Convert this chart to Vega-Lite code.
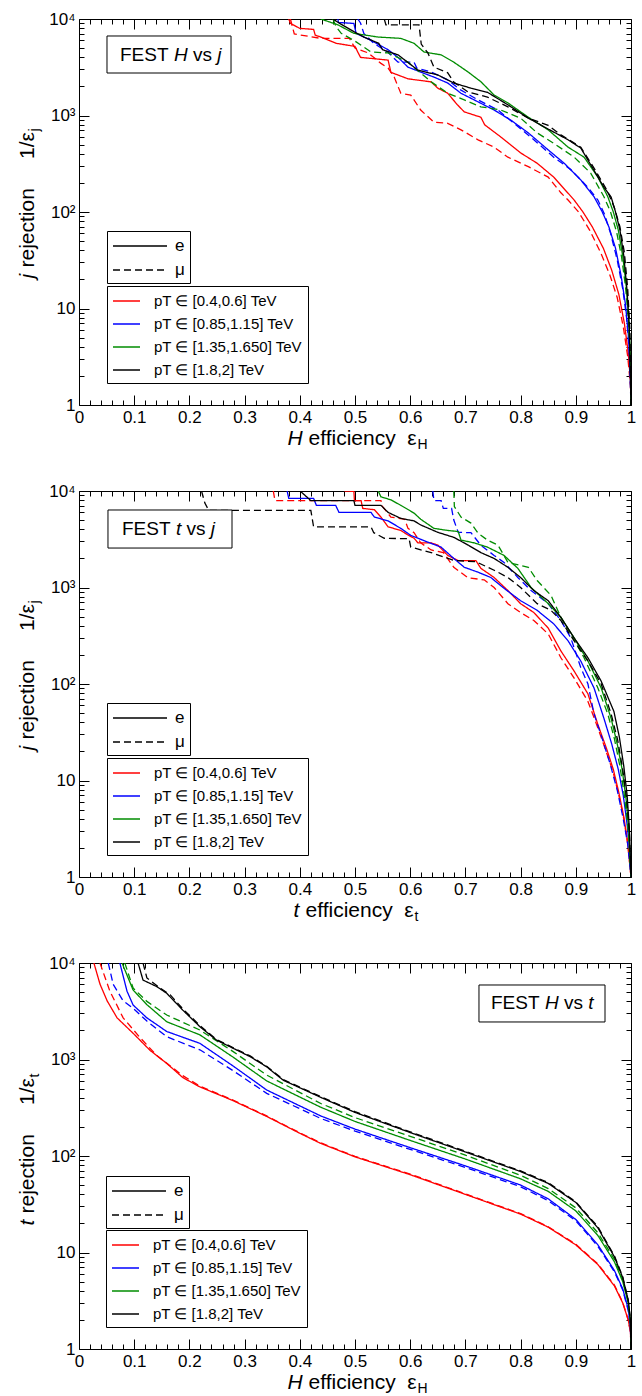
{
"$schema": "https://vega.github.io/schema/vega-lite/v6.json",
"background": "white",
"padding": {"left": 15, "top": 9, "right": 5, "bottom": 0},
"spacing": 29,
"config": {
  "font": "Liberation Sans",
  "view": {"stroke": "black", "strokeWidth": 1},
  "axis": {"grid": false, "domain": false, "tickColor": "black", "tickWidth": 1, "labelColor": "black", "titleColor": "black", "labelFontSize": 17, "titleFontSize": 21, "titleFontWeight": "normal", "labelFlush": false, "labelOverlap": false, "titleBaseline": "alphabetic", "titleAlign": "left"},
  "legend": {"strokeColor": "black", "fillColor": "white", "padding": 5, "cornerRadius": 0, "labelColor": "black", "symbolStrokeWidth": 1.5, "labelBaseline": "middle"}
},
"datasets": {
"p1": [
{"e":0.380,"r":10000,"p":"[0.4,0.6]","l":"e"},{"e":0.383,"r":9000,"p":"[0.4,0.6]","l":"e"},{"e":0.400,"r":8000,"p":"[0.4,0.6]","l":"e"},{"e":0.425,"r":7800,"p":"[0.4,0.6]","l":"e"},{"e":0.428,"r":6800,"p":"[0.4,0.6]","l":"e"},{"e":0.438,"r":6500,"p":"[0.4,0.6]","l":"e"},{"e":0.466,"r":5600,"p":"[0.4,0.6]","l":"e"},{"e":0.500,"r":5200,"p":"[0.4,0.6]","l":"e"},{"e":0.505,"r":4550,"p":"[0.4,0.6]","l":"e"},{"e":0.510,"r":4000,"p":"[0.4,0.6]","l":"e"},{"e":0.560,"r":3750,"p":"[0.4,0.6]","l":"e"},{"e":0.565,"r":2800,"p":"[0.4,0.6]","l":"e"},{"e":0.596,"r":2400,"p":"[0.4,0.6]","l":"e"},{"e":0.638,"r":2230,"p":"[0.4,0.6]","l":"e"},{"e":0.650,"r":1920,"p":"[0.4,0.6]","l":"e"},{"e":0.668,"r":1700,"p":"[0.4,0.6]","l":"e"},{"e":0.685,"r":1300,"p":"[0.4,0.6]","l":"e"},{"e":0.698,"r":1090,"p":"[0.4,0.6]","l":"e"},{"e":0.728,"r":960,"p":"[0.4,0.6]","l":"e"},{"e":0.735,"r":800,"p":"[0.4,0.6]","l":"e"},{"e":0.764,"r":600,"p":"[0.4,0.6]","l":"e"},{"e":0.800,"r":410,"p":"[0.4,0.6]","l":"e"},{"e":0.830,"r":320,"p":"[0.4,0.6]","l":"e"},{"e":0.860,"r":230,"p":"[0.4,0.6]","l":"e"},{"e":0.897,"r":133,"p":"[0.4,0.6]","l":"e"},{"e":0.913,"r":100,"p":"[0.4,0.6]","l":"e"},{"e":0.930,"r":70,"p":"[0.4,0.6]","l":"e"},{"e":0.950,"r":42,"p":"[0.4,0.6]","l":"e"},{"e":0.965,"r":25,"p":"[0.4,0.6]","l":"e"},{"e":0.978,"r":14,"p":"[0.4,0.6]","l":"e"},{"e":0.988,"r":7,"p":"[0.4,0.6]","l":"e"},{"e":0.995,"r":3.5,"p":"[0.4,0.6]","l":"e"},{"e":0.999,"r":1.8,"p":"[0.4,0.6]","l":"e"},{"e":1.0,"r":1,"p":"[0.4,0.6]","l":"e"},
{"e":0.383,"r":10000,"p":"[0.4,0.6]","l":"μ"},{"e":0.390,"r":7000,"p":"[0.4,0.6]","l":"μ"},{"e":0.438,"r":6300,"p":"[0.4,0.6]","l":"μ"},{"e":0.490,"r":6300,"p":"[0.4,0.6]","l":"μ"},{"e":0.500,"r":5000,"p":"[0.4,0.6]","l":"μ"},{"e":0.524,"r":4450,"p":"[0.4,0.6]","l":"μ"},{"e":0.547,"r":3470,"p":"[0.4,0.6]","l":"μ"},{"e":0.560,"r":3100,"p":"[0.4,0.6]","l":"μ"},{"e":0.571,"r":2500,"p":"[0.4,0.6]","l":"μ"},{"e":0.583,"r":1700,"p":"[0.4,0.6]","l":"μ"},{"e":0.601,"r":1630,"p":"[0.4,0.6]","l":"μ"},{"e":0.619,"r":1140,"p":"[0.4,0.6]","l":"μ"},{"e":0.643,"r":850,"p":"[0.4,0.6]","l":"μ"},{"e":0.668,"r":830,"p":"[0.4,0.6]","l":"μ"},{"e":0.692,"r":710,"p":"[0.4,0.6]","l":"μ"},{"e":0.723,"r":560,"p":"[0.4,0.6]","l":"μ"},{"e":0.752,"r":470,"p":"[0.4,0.6]","l":"μ"},{"e":0.777,"r":370,"p":"[0.4,0.6]","l":"μ"},{"e":0.814,"r":295,"p":"[0.4,0.6]","l":"μ"},{"e":0.850,"r":230,"p":"[0.4,0.6]","l":"μ"},{"e":0.873,"r":158,"p":"[0.4,0.6]","l":"μ"},{"e":0.886,"r":133,"p":"[0.4,0.6]","l":"μ"},{"e":0.905,"r":100,"p":"[0.4,0.6]","l":"μ"},{"e":0.925,"r":65,"p":"[0.4,0.6]","l":"μ"},{"e":0.945,"r":38,"p":"[0.4,0.6]","l":"μ"},{"e":0.962,"r":22,"p":"[0.4,0.6]","l":"μ"},{"e":0.975,"r":13,"p":"[0.4,0.6]","l":"μ"},{"e":0.986,"r":6.5,"p":"[0.4,0.6]","l":"μ"},{"e":0.994,"r":3.2,"p":"[0.4,0.6]","l":"μ"},{"e":0.999,"r":1.6,"p":"[0.4,0.6]","l":"μ"},{"e":1.0,"r":1,"p":"[0.4,0.6]","l":"μ"},
{"e":0.469,"r":10000,"p":"[0.85,1.15]","l":"e"},{"e":0.470,"r":9200,"p":"[0.85,1.15]","l":"e"},{"e":0.498,"r":9000,"p":"[0.85,1.15]","l":"e"},{"e":0.502,"r":7100,"p":"[0.85,1.15]","l":"e"},{"e":0.529,"r":6000,"p":"[0.85,1.15]","l":"e"},{"e":0.560,"r":4800,"p":"[0.85,1.15]","l":"e"},{"e":0.578,"r":4000,"p":"[0.85,1.15]","l":"e"},{"e":0.596,"r":3170,"p":"[0.85,1.15]","l":"e"},{"e":0.619,"r":2820,"p":"[0.85,1.15]","l":"e"},{"e":0.643,"r":2500,"p":"[0.85,1.15]","l":"e"},{"e":0.668,"r":2170,"p":"[0.85,1.15]","l":"e"},{"e":0.692,"r":1700,"p":"[0.85,1.15]","l":"e"},{"e":0.716,"r":1450,"p":"[0.85,1.15]","l":"e"},{"e":0.752,"r":1140,"p":"[0.85,1.15]","l":"e"},{"e":0.783,"r":890,"p":"[0.85,1.15]","l":"e"},{"e":0.814,"r":660,"p":"[0.85,1.15]","l":"e"},{"e":0.850,"r":440,"p":"[0.85,1.15]","l":"e"},{"e":0.879,"r":320,"p":"[0.85,1.15]","l":"e"},{"e":0.909,"r":215,"p":"[0.85,1.15]","l":"e"},{"e":0.933,"r":144,"p":"[0.85,1.15]","l":"e"},{"e":0.948,"r":100,"p":"[0.85,1.15]","l":"e"},{"e":0.960,"r":70,"p":"[0.85,1.15]","l":"e"},{"e":0.972,"r":42,"p":"[0.85,1.15]","l":"e"},{"e":0.982,"r":22,"p":"[0.85,1.15]","l":"e"},{"e":0.990,"r":11,"p":"[0.85,1.15]","l":"e"},{"e":0.995,"r":5.5,"p":"[0.85,1.15]","l":"e"},{"e":0.999,"r":2,"p":"[0.85,1.15]","l":"e"},{"e":1.0,"r":1,"p":"[0.85,1.15]","l":"e"},
{"e":0.505,"r":10000,"p":"[0.85,1.15]","l":"μ"},{"e":0.510,"r":9100,"p":"[0.85,1.15]","l":"μ"},{"e":0.516,"r":7100,"p":"[0.85,1.15]","l":"μ"},{"e":0.534,"r":5600,"p":"[0.85,1.15]","l":"μ"},{"e":0.560,"r":4500,"p":"[0.85,1.15]","l":"μ"},{"e":0.578,"r":3570,"p":"[0.85,1.15]","l":"μ"},{"e":0.607,"r":3570,"p":"[0.85,1.15]","l":"μ"},{"e":0.612,"r":3100,"p":"[0.85,1.15]","l":"μ"},{"e":0.638,"r":2820,"p":"[0.85,1.15]","l":"μ"},{"e":0.668,"r":2340,"p":"[0.85,1.15]","l":"μ"},{"e":0.692,"r":1830,"p":"[0.85,1.15]","l":"μ"},{"e":0.723,"r":1450,"p":"[0.85,1.15]","l":"μ"},{"e":0.759,"r":1140,"p":"[0.85,1.15]","l":"μ"},{"e":0.788,"r":830,"p":"[0.85,1.15]","l":"μ"},{"e":0.824,"r":560,"p":"[0.85,1.15]","l":"μ"},{"e":0.860,"r":370,"p":"[0.85,1.15]","l":"μ"},{"e":0.891,"r":275,"p":"[0.85,1.15]","l":"μ"},{"e":0.922,"r":180,"p":"[0.85,1.15]","l":"μ"},{"e":0.940,"r":133,"p":"[0.85,1.15]","l":"μ"},{"e":0.952,"r":95,"p":"[0.85,1.15]","l":"μ"},{"e":0.963,"r":60,"p":"[0.85,1.15]","l":"μ"},{"e":0.975,"r":32,"p":"[0.85,1.15]","l":"μ"},{"e":0.985,"r":16,"p":"[0.85,1.15]","l":"μ"},{"e":0.992,"r":8,"p":"[0.85,1.15]","l":"μ"},{"e":0.997,"r":3.5,"p":"[0.85,1.15]","l":"μ"},{"e":1.0,"r":1,"p":"[0.85,1.15]","l":"μ"},
{"e":0.438,"r":10000,"p":"[1.35,1.650]","l":"e"},{"e":0.469,"r":8700,"p":"[1.35,1.650]","l":"e"},{"e":0.498,"r":7100,"p":"[1.35,1.650]","l":"e"},{"e":0.542,"r":6500,"p":"[1.35,1.650]","l":"e"},{"e":0.583,"r":6300,"p":"[1.35,1.650]","l":"e"},{"e":0.607,"r":5600,"p":"[1.35,1.650]","l":"e"},{"e":0.625,"r":4550,"p":"[1.35,1.650]","l":"e"},{"e":0.656,"r":4250,"p":"[1.35,1.650]","l":"e"},{"e":0.679,"r":3570,"p":"[1.35,1.650]","l":"e"},{"e":0.705,"r":2820,"p":"[1.35,1.650]","l":"e"},{"e":0.728,"r":2240,"p":"[1.35,1.650]","l":"e"},{"e":0.752,"r":1630,"p":"[1.35,1.650]","l":"e"},{"e":0.777,"r":1350,"p":"[1.35,1.650]","l":"e"},{"e":0.814,"r":960,"p":"[1.35,1.650]","l":"e"},{"e":0.850,"r":710,"p":"[1.35,1.650]","l":"e"},{"e":0.886,"r":470,"p":"[1.35,1.650]","l":"e"},{"e":0.915,"r":370,"p":"[1.35,1.650]","l":"e"},{"e":0.940,"r":230,"p":"[1.35,1.650]","l":"e"},{"e":0.958,"r":144,"p":"[1.35,1.650]","l":"e"},{"e":0.968,"r":100,"p":"[1.35,1.650]","l":"e"},{"e":0.977,"r":65,"p":"[1.35,1.650]","l":"e"},{"e":0.985,"r":35,"p":"[1.35,1.650]","l":"e"},{"e":0.991,"r":18,"p":"[1.35,1.650]","l":"e"},{"e":0.996,"r":8,"p":"[1.35,1.650]","l":"e"},{"e":0.999,"r":3,"p":"[1.35,1.650]","l":"e"},{"e":1.0,"r":1,"p":"[1.35,1.650]","l":"e"},
{"e":0.460,"r":10000,"p":"[1.35,1.650]","l":"μ"},{"e":0.466,"r":8300,"p":"[1.35,1.650]","l":"μ"},{"e":0.475,"r":7100,"p":"[1.35,1.650]","l":"μ"},{"e":0.498,"r":6000,"p":"[1.35,1.650]","l":"μ"},{"e":0.529,"r":4550,"p":"[1.35,1.650]","l":"μ"},{"e":0.560,"r":4450,"p":"[1.35,1.650]","l":"μ"},{"e":0.596,"r":3570,"p":"[1.35,1.650]","l":"μ"},{"e":0.638,"r":2230,"p":"[1.35,1.650]","l":"μ"},{"e":0.668,"r":1700,"p":"[1.35,1.650]","l":"μ"},{"e":0.698,"r":1450,"p":"[1.35,1.650]","l":"μ"},{"e":0.728,"r":1230,"p":"[1.35,1.650]","l":"μ"},{"e":0.764,"r":1140,"p":"[1.35,1.650]","l":"μ"},{"e":0.800,"r":940,"p":"[1.35,1.650]","l":"μ"},{"e":0.830,"r":660,"p":"[1.35,1.650]","l":"μ"},{"e":0.860,"r":515,"p":"[1.35,1.650]","l":"μ"},{"e":0.897,"r":370,"p":"[1.35,1.650]","l":"μ"},{"e":0.927,"r":253,"p":"[1.35,1.650]","l":"μ"},{"e":0.951,"r":144,"p":"[1.35,1.650]","l":"μ"},{"e":0.963,"r":100,"p":"[1.35,1.650]","l":"μ"},{"e":0.974,"r":62,"p":"[1.35,1.650]","l":"μ"},{"e":0.983,"r":34,"p":"[1.35,1.650]","l":"μ"},{"e":0.990,"r":17,"p":"[1.35,1.650]","l":"μ"},{"e":0.995,"r":8,"p":"[1.35,1.650]","l":"μ"},{"e":0.999,"r":3,"p":"[1.35,1.650]","l":"μ"},{"e":1.0,"r":1,"p":"[1.35,1.650]","l":"μ"},
{"e":0.460,"r":10000,"p":"[1.8,2]","l":"e"},{"e":0.471,"r":9100,"p":"[1.8,2]","l":"e"},{"e":0.498,"r":7400,"p":"[1.8,2]","l":"e"},{"e":0.516,"r":6500,"p":"[1.8,2]","l":"e"},{"e":0.543,"r":5600,"p":"[1.8,2]","l":"e"},{"e":0.550,"r":4800,"p":"[1.8,2]","l":"e"},{"e":0.578,"r":4250,"p":"[1.8,2]","l":"e"},{"e":0.614,"r":2950,"p":"[1.8,2]","l":"e"},{"e":0.650,"r":2630,"p":"[1.8,2]","l":"e"},{"e":0.679,"r":2170,"p":"[1.8,2]","l":"e"},{"e":0.710,"r":1920,"p":"[1.8,2]","l":"e"},{"e":0.740,"r":1740,"p":"[1.8,2]","l":"e"},{"e":0.777,"r":1290,"p":"[1.8,2]","l":"e"},{"e":0.814,"r":940,"p":"[1.8,2]","l":"e"},{"e":0.843,"r":760,"p":"[1.8,2]","l":"e"},{"e":0.886,"r":560,"p":"[1.8,2]","l":"e"},{"e":0.909,"r":460,"p":"[1.8,2]","l":"e"},{"e":0.933,"r":270,"p":"[1.8,2]","l":"e"},{"e":0.951,"r":180,"p":"[1.8,2]","l":"e"},{"e":0.964,"r":143,"p":"[1.8,2]","l":"e"},{"e":0.972,"r":100,"p":"[1.8,2]","l":"e"},{"e":0.980,"r":65,"p":"[1.8,2]","l":"e"},{"e":0.987,"r":35,"p":"[1.8,2]","l":"e"},{"e":0.993,"r":15,"p":"[1.8,2]","l":"e"},{"e":0.997,"r":6,"p":"[1.8,2]","l":"e"},{"e":1.0,"r":1,"p":"[1.8,2]","l":"e"},
{"e":0.553,"r":10000,"p":"[1.8,2]","l":"μ"},{"e":0.556,"r":8700,"p":"[1.8,2]","l":"μ"},{"e":0.616,"r":8700,"p":"[1.8,2]","l":"μ"},{"e":0.620,"r":5500,"p":"[1.8,2]","l":"μ"},{"e":0.632,"r":4450,"p":"[1.8,2]","l":"μ"},{"e":0.643,"r":3170,"p":"[1.8,2]","l":"μ"},{"e":0.668,"r":2770,"p":"[1.8,2]","l":"μ"},{"e":0.679,"r":2220,"p":"[1.8,2]","l":"μ"},{"e":0.705,"r":1750,"p":"[1.8,2]","l":"μ"},{"e":0.740,"r":1550,"p":"[1.8,2]","l":"μ"},{"e":0.777,"r":1230,"p":"[1.8,2]","l":"μ"},{"e":0.814,"r":940,"p":"[1.8,2]","l":"μ"},{"e":0.850,"r":790,"p":"[1.8,2]","l":"μ"},{"e":0.873,"r":630,"p":"[1.8,2]","l":"μ"},{"e":0.909,"r":470,"p":"[1.8,2]","l":"μ"},{"e":0.933,"r":285,"p":"[1.8,2]","l":"μ"},{"e":0.958,"r":162,"p":"[1.8,2]","l":"μ"},{"e":0.970,"r":110,"p":"[1.8,2]","l":"μ"},{"e":0.980,"r":70,"p":"[1.8,2]","l":"μ"},{"e":0.988,"r":38,"p":"[1.8,2]","l":"μ"},{"e":0.994,"r":16,"p":"[1.8,2]","l":"μ"},{"e":0.998,"r":6,"p":"[1.8,2]","l":"μ"},{"e":1.0,"r":1,"p":"[1.8,2]","l":"μ"}
],
"p2": [
{"e":0.481,"r":10000,"p":"[0.4,0.6]","l":"e"},{"e":0.498,"r":9900,"p":"[0.4,0.6]","l":"e"},{"e":0.499,"r":7950,"p":"[0.4,0.6]","l":"e"},{"e":0.511,"r":7950,"p":"[0.4,0.6]","l":"e"},{"e":0.514,"r":6600,"p":"[0.4,0.6]","l":"e"},{"e":0.535,"r":6400,"p":"[0.4,0.6]","l":"e"},{"e":0.547,"r":5370,"p":"[0.4,0.6]","l":"e"},{"e":0.560,"r":4250,"p":"[0.4,0.6]","l":"e"},{"e":0.583,"r":3900,"p":"[0.4,0.6]","l":"e"},{"e":0.596,"r":3500,"p":"[0.4,0.6]","l":"e"},{"e":0.607,"r":3240,"p":"[0.4,0.6]","l":"e"},{"e":0.614,"r":2900,"p":"[0.4,0.6]","l":"e"},{"e":0.638,"r":2900,"p":"[0.4,0.6]","l":"e"},{"e":0.650,"r":2750,"p":"[0.4,0.6]","l":"e"},{"e":0.668,"r":2150,"p":"[0.4,0.6]","l":"e"},{"e":0.687,"r":1900,"p":"[0.4,0.6]","l":"e"},{"e":0.719,"r":1900,"p":"[0.4,0.6]","l":"e"},{"e":0.728,"r":1580,"p":"[0.4,0.6]","l":"e"},{"e":0.752,"r":1270,"p":"[0.4,0.6]","l":"e"},{"e":0.777,"r":930,"p":"[0.4,0.6]","l":"e"},{"e":0.800,"r":680,"p":"[0.4,0.6]","l":"e"},{"e":0.824,"r":550,"p":"[0.4,0.6]","l":"e"},{"e":0.850,"r":380,"p":"[0.4,0.6]","l":"e"},{"e":0.873,"r":220,"p":"[0.4,0.6]","l":"e"},{"e":0.897,"r":136,"p":"[0.4,0.6]","l":"e"},{"e":0.922,"r":79,"p":"[0.4,0.6]","l":"e"},{"e":0.940,"r":38,"p":"[0.4,0.6]","l":"e"},{"e":0.955,"r":22,"p":"[0.4,0.6]","l":"e"},{"e":0.968,"r":13,"p":"[0.4,0.6]","l":"e"},{"e":0.978,"r":7.5,"p":"[0.4,0.6]","l":"e"},{"e":0.987,"r":4.2,"p":"[0.4,0.6]","l":"e"},{"e":0.994,"r":2.3,"p":"[0.4,0.6]","l":"e"},{"e":1.0,"r":1,"p":"[0.4,0.6]","l":"e"},
{"e":0.352,"r":10000,"p":"[0.4,0.6]","l":"μ"},{"e":0.355,"r":7950,"p":"[0.4,0.6]","l":"μ"},{"e":0.547,"r":7950,"p":"[0.4,0.6]","l":"μ"},{"e":0.550,"r":6900,"p":"[0.4,0.6]","l":"μ"},{"e":0.565,"r":5370,"p":"[0.4,0.6]","l":"μ"},{"e":0.590,"r":5100,"p":"[0.4,0.6]","l":"μ"},{"e":0.596,"r":4100,"p":"[0.4,0.6]","l":"μ"},{"e":0.607,"r":3700,"p":"[0.4,0.6]","l":"μ"},{"e":0.619,"r":2900,"p":"[0.4,0.6]","l":"μ"},{"e":0.638,"r":2450,"p":"[0.4,0.6]","l":"μ"},{"e":0.660,"r":2300,"p":"[0.4,0.6]","l":"μ"},{"e":0.679,"r":1620,"p":"[0.4,0.6]","l":"μ"},{"e":0.705,"r":1260,"p":"[0.4,0.6]","l":"μ"},{"e":0.734,"r":1200,"p":"[0.4,0.6]","l":"μ"},{"e":0.752,"r":1000,"p":"[0.4,0.6]","l":"μ"},{"e":0.777,"r":680,"p":"[0.4,0.6]","l":"μ"},{"e":0.800,"r":550,"p":"[0.4,0.6]","l":"μ"},{"e":0.824,"r":455,"p":"[0.4,0.6]","l":"μ"},{"e":0.850,"r":330,"p":"[0.4,0.6]","l":"μ"},{"e":0.873,"r":187,"p":"[0.4,0.6]","l":"μ"},{"e":0.897,"r":115,"p":"[0.4,0.6]","l":"μ"},{"e":0.922,"r":66,"p":"[0.4,0.6]","l":"μ"},{"e":0.940,"r":35,"p":"[0.4,0.6]","l":"μ"},{"e":0.955,"r":20,"p":"[0.4,0.6]","l":"μ"},{"e":0.968,"r":12,"p":"[0.4,0.6]","l":"μ"},{"e":0.978,"r":7,"p":"[0.4,0.6]","l":"μ"},{"e":0.987,"r":4,"p":"[0.4,0.6]","l":"μ"},{"e":0.994,"r":2.2,"p":"[0.4,0.6]","l":"μ"},{"e":1.0,"r":1,"p":"[0.4,0.6]","l":"μ"},
{"e":0.377,"r":10000,"p":"[0.85,1.15]","l":"e"},{"e":0.380,"r":8400,"p":"[0.85,1.15]","l":"e"},{"e":0.425,"r":8400,"p":"[0.85,1.15]","l":"e"},{"e":0.430,"r":7100,"p":"[0.85,1.15]","l":"e"},{"e":0.465,"r":7100,"p":"[0.85,1.15]","l":"e"},{"e":0.471,"r":6000,"p":"[0.85,1.15]","l":"e"},{"e":0.529,"r":6000,"p":"[0.85,1.15]","l":"e"},{"e":0.535,"r":5370,"p":"[0.85,1.15]","l":"e"},{"e":0.560,"r":4900,"p":"[0.85,1.15]","l":"e"},{"e":0.583,"r":4100,"p":"[0.85,1.15]","l":"e"},{"e":0.601,"r":3470,"p":"[0.85,1.15]","l":"e"},{"e":0.632,"r":2950,"p":"[0.85,1.15]","l":"e"},{"e":0.656,"r":2620,"p":"[0.85,1.15]","l":"e"},{"e":0.679,"r":2000,"p":"[0.85,1.15]","l":"e"},{"e":0.698,"r":1620,"p":"[0.85,1.15]","l":"e"},{"e":0.723,"r":1440,"p":"[0.85,1.15]","l":"e"},{"e":0.746,"r":1270,"p":"[0.85,1.15]","l":"e"},{"e":0.770,"r":980,"p":"[0.85,1.15]","l":"e"},{"e":0.800,"r":730,"p":"[0.85,1.15]","l":"e"},{"e":0.830,"r":580,"p":"[0.85,1.15]","l":"e"},{"e":0.860,"r":420,"p":"[0.85,1.15]","l":"e"},{"e":0.886,"r":280,"p":"[0.85,1.15]","l":"e"},{"e":0.909,"r":173,"p":"[0.85,1.15]","l":"e"},{"e":0.933,"r":91,"p":"[0.85,1.15]","l":"e"},{"e":0.951,"r":44,"p":"[0.85,1.15]","l":"e"},{"e":0.965,"r":24,"p":"[0.85,1.15]","l":"e"},{"e":0.977,"r":13,"p":"[0.85,1.15]","l":"e"},{"e":0.986,"r":7,"p":"[0.85,1.15]","l":"e"},{"e":0.993,"r":3.5,"p":"[0.85,1.15]","l":"e"},{"e":0.998,"r":1.8,"p":"[0.85,1.15]","l":"e"},{"e":1.0,"r":1,"p":"[0.85,1.15]","l":"e"},
{"e":0.641,"r":10000,"p":"[0.85,1.15]","l":"μ"},{"e":0.643,"r":7950,"p":"[0.85,1.15]","l":"μ"},{"e":0.656,"r":7950,"p":"[0.85,1.15]","l":"μ"},{"e":0.660,"r":6600,"p":"[0.85,1.15]","l":"μ"},{"e":0.675,"r":6600,"p":"[0.85,1.15]","l":"μ"},{"e":0.679,"r":5000,"p":"[0.85,1.15]","l":"μ"},{"e":0.687,"r":3730,"p":"[0.85,1.15]","l":"μ"},{"e":0.710,"r":3700,"p":"[0.85,1.15]","l":"μ"},{"e":0.728,"r":2740,"p":"[0.85,1.15]","l":"μ"},{"e":0.752,"r":2150,"p":"[0.85,1.15]","l":"μ"},{"e":0.770,"r":1820,"p":"[0.85,1.15]","l":"μ"},{"e":0.795,"r":1270,"p":"[0.85,1.15]","l":"μ"},{"e":0.819,"r":930,"p":"[0.85,1.15]","l":"μ"},{"e":0.850,"r":680,"p":"[0.85,1.15]","l":"μ"},{"e":0.873,"r":455,"p":"[0.85,1.15]","l":"μ"},{"e":0.891,"r":300,"p":"[0.85,1.15]","l":"μ"},{"e":0.909,"r":148,"p":"[0.85,1.15]","l":"μ"},{"e":0.922,"r":100,"p":"[0.85,1.15]","l":"μ"},{"e":0.933,"r":49,"p":"[0.85,1.15]","l":"μ"},{"e":0.948,"r":27,"p":"[0.85,1.15]","l":"μ"},{"e":0.962,"r":15,"p":"[0.85,1.15]","l":"μ"},{"e":0.975,"r":8,"p":"[0.85,1.15]","l":"μ"},{"e":0.986,"r":4,"p":"[0.85,1.15]","l":"μ"},{"e":0.994,"r":2.2,"p":"[0.85,1.15]","l":"μ"},{"e":1.0,"r":1,"p":"[0.85,1.15]","l":"μ"},
{"e":0.542,"r":10000,"p":"[1.35,1.650]","l":"e"},{"e":0.547,"r":8700,"p":"[1.35,1.650]","l":"e"},{"e":0.565,"r":8100,"p":"[1.35,1.650]","l":"e"},{"e":0.583,"r":7100,"p":"[1.35,1.650]","l":"e"},{"e":0.607,"r":5900,"p":"[1.35,1.650]","l":"e"},{"e":0.619,"r":5100,"p":"[1.35,1.650]","l":"e"},{"e":0.643,"r":4100,"p":"[1.35,1.650]","l":"e"},{"e":0.668,"r":3900,"p":"[1.35,1.650]","l":"e"},{"e":0.687,"r":3800,"p":"[1.35,1.650]","l":"e"},{"e":0.692,"r":3100,"p":"[1.35,1.650]","l":"e"},{"e":0.716,"r":2900,"p":"[1.35,1.650]","l":"e"},{"e":0.740,"r":2620,"p":"[1.35,1.650]","l":"e"},{"e":0.770,"r":2150,"p":"[1.35,1.650]","l":"e"},{"e":0.795,"r":1580,"p":"[1.35,1.650]","l":"e"},{"e":0.819,"r":1000,"p":"[1.35,1.650]","l":"e"},{"e":0.850,"r":680,"p":"[1.35,1.650]","l":"e"},{"e":0.873,"r":490,"p":"[1.35,1.650]","l":"e"},{"e":0.897,"r":300,"p":"[1.35,1.650]","l":"e"},{"e":0.922,"r":173,"p":"[1.35,1.650]","l":"e"},{"e":0.946,"r":91,"p":"[1.35,1.650]","l":"e"},{"e":0.964,"r":44,"p":"[1.35,1.650]","l":"e"},{"e":0.975,"r":24,"p":"[1.35,1.650]","l":"e"},{"e":0.984,"r":13,"p":"[1.35,1.650]","l":"e"},{"e":0.991,"r":6.5,"p":"[1.35,1.650]","l":"e"},{"e":0.996,"r":3,"p":"[1.35,1.650]","l":"e"},{"e":1.0,"r":1,"p":"[1.35,1.650]","l":"e"},
{"e":0.679,"r":10000,"p":"[1.35,1.650]","l":"μ"},{"e":0.680,"r":6900,"p":"[1.35,1.650]","l":"μ"},{"e":0.692,"r":5370,"p":"[1.35,1.650]","l":"μ"},{"e":0.710,"r":4650,"p":"[1.35,1.650]","l":"μ"},{"e":0.723,"r":3650,"p":"[1.35,1.650]","l":"μ"},{"e":0.740,"r":3100,"p":"[1.35,1.650]","l":"μ"},{"e":0.759,"r":2750,"p":"[1.35,1.650]","l":"μ"},{"e":0.777,"r":1820,"p":"[1.35,1.650]","l":"μ"},{"e":0.814,"r":1620,"p":"[1.35,1.650]","l":"μ"},{"e":0.830,"r":1180,"p":"[1.35,1.650]","l":"μ"},{"e":0.855,"r":830,"p":"[1.35,1.650]","l":"μ"},{"e":0.873,"r":490,"p":"[1.35,1.650]","l":"μ"},{"e":0.891,"r":330,"p":"[1.35,1.650]","l":"μ"},{"e":0.915,"r":187,"p":"[1.35,1.650]","l":"μ"},{"e":0.940,"r":91,"p":"[1.35,1.650]","l":"μ"},{"e":0.958,"r":49,"p":"[1.35,1.650]","l":"μ"},{"e":0.970,"r":27,"p":"[1.35,1.650]","l":"μ"},{"e":0.980,"r":14,"p":"[1.35,1.650]","l":"μ"},{"e":0.988,"r":7,"p":"[1.35,1.650]","l":"μ"},{"e":0.995,"r":3,"p":"[1.35,1.650]","l":"μ"},{"e":1.0,"r":1,"p":"[1.35,1.650]","l":"μ"},
{"e":0.400,"r":10000,"p":"[1.8,2]","l":"e"},{"e":0.405,"r":9500,"p":"[1.8,2]","l":"e"},{"e":0.420,"r":7950,"p":"[1.8,2]","l":"e"},{"e":0.498,"r":7950,"p":"[1.8,2]","l":"e"},{"e":0.500,"r":7100,"p":"[1.8,2]","l":"e"},{"e":0.547,"r":7100,"p":"[1.8,2]","l":"e"},{"e":0.560,"r":6000,"p":"[1.8,2]","l":"e"},{"e":0.583,"r":5200,"p":"[1.8,2]","l":"e"},{"e":0.607,"r":4900,"p":"[1.8,2]","l":"e"},{"e":0.619,"r":4450,"p":"[1.8,2]","l":"e"},{"e":0.650,"r":3730,"p":"[1.8,2]","l":"e"},{"e":0.679,"r":3310,"p":"[1.8,2]","l":"e"},{"e":0.705,"r":2750,"p":"[1.8,2]","l":"e"},{"e":0.728,"r":2300,"p":"[1.8,2]","l":"e"},{"e":0.752,"r":2000,"p":"[1.8,2]","l":"e"},{"e":0.777,"r":1620,"p":"[1.8,2]","l":"e"},{"e":0.800,"r":1270,"p":"[1.8,2]","l":"e"},{"e":0.824,"r":930,"p":"[1.8,2]","l":"e"},{"e":0.850,"r":730,"p":"[1.8,2]","l":"e"},{"e":0.873,"r":490,"p":"[1.8,2]","l":"e"},{"e":0.897,"r":300,"p":"[1.8,2]","l":"e"},{"e":0.922,"r":187,"p":"[1.8,2]","l":"e"},{"e":0.946,"r":107,"p":"[1.8,2]","l":"e"},{"e":0.969,"r":52,"p":"[1.8,2]","l":"e"},{"e":0.979,"r":28,"p":"[1.8,2]","l":"e"},{"e":0.987,"r":14,"p":"[1.8,2]","l":"e"},{"e":0.993,"r":7,"p":"[1.8,2]","l":"e"},{"e":0.997,"r":3.2,"p":"[1.8,2]","l":"e"},{"e":1.0,"r":1,"p":"[1.8,2]","l":"e"},
{"e":0.222,"r":10000,"p":"[1.8,2]","l":"μ"},{"e":0.228,"r":7500,"p":"[1.8,2]","l":"μ"},{"e":0.235,"r":6300,"p":"[1.8,2]","l":"μ"},{"e":0.420,"r":6300,"p":"[1.8,2]","l":"μ"},{"e":0.425,"r":4250,"p":"[1.8,2]","l":"μ"},{"e":0.529,"r":4250,"p":"[1.8,2]","l":"μ"},{"e":0.534,"r":3700,"p":"[1.8,2]","l":"μ"},{"e":0.553,"r":3240,"p":"[1.8,2]","l":"μ"},{"e":0.598,"r":3200,"p":"[1.8,2]","l":"μ"},{"e":0.601,"r":2620,"p":"[1.8,2]","l":"μ"},{"e":0.638,"r":2300,"p":"[1.8,2]","l":"μ"},{"e":0.679,"r":1910,"p":"[1.8,2]","l":"μ"},{"e":0.719,"r":1850,"p":"[1.8,2]","l":"μ"},{"e":0.752,"r":1510,"p":"[1.8,2]","l":"μ"},{"e":0.777,"r":1270,"p":"[1.8,2]","l":"μ"},{"e":0.800,"r":1000,"p":"[1.8,2]","l":"μ"},{"e":0.830,"r":680,"p":"[1.8,2]","l":"μ"},{"e":0.855,"r":580,"p":"[1.8,2]","l":"μ"},{"e":0.873,"r":455,"p":"[1.8,2]","l":"μ"},{"e":0.897,"r":280,"p":"[1.8,2]","l":"μ"},{"e":0.922,"r":173,"p":"[1.8,2]","l":"μ"},{"e":0.946,"r":100,"p":"[1.8,2]","l":"μ"},{"e":0.964,"r":49,"p":"[1.8,2]","l":"μ"},{"e":0.976,"r":26,"p":"[1.8,2]","l":"μ"},{"e":0.985,"r":13,"p":"[1.8,2]","l":"μ"},{"e":0.992,"r":6.5,"p":"[1.8,2]","l":"μ"},{"e":0.997,"r":3,"p":"[1.8,2]","l":"μ"},{"e":1.0,"r":1,"p":"[1.8,2]","l":"μ"}
],
"p3": [
{"e":0.027,"r":10000,"p":"[0.4,0.6]","l":"e"},{"e":0.038,"r":6050,"p":"[0.4,0.6]","l":"e"},{"e":0.051,"r":4050,"p":"[0.4,0.6]","l":"e"},{"e":0.069,"r":2700,"p":"[0.4,0.6]","l":"e"},{"e":0.098,"r":1870,"p":"[0.4,0.6]","l":"e"},{"e":0.129,"r":1240,"p":"[0.4,0.6]","l":"e"},{"e":0.159,"r":910,"p":"[0.4,0.6]","l":"e"},{"e":0.188,"r":650,"p":"[0.4,0.6]","l":"e"},{"e":0.219,"r":520,"p":"[0.4,0.6]","l":"e"},{"e":0.279,"r":375,"p":"[0.4,0.6]","l":"e"},{"e":0.340,"r":257,"p":"[0.4,0.6]","l":"e"},{"e":0.400,"r":172,"p":"[0.4,0.6]","l":"e"},{"e":0.438,"r":135,"p":"[0.4,0.6]","l":"e"},{"e":0.500,"r":98,"p":"[0.4,0.6]","l":"e"},{"e":0.600,"r":64,"p":"[0.4,0.6]","l":"e"},{"e":0.700,"r":40,"p":"[0.4,0.6]","l":"e"},{"e":0.800,"r":25,"p":"[0.4,0.6]","l":"e"},{"e":0.850,"r":18.3,"p":"[0.4,0.6]","l":"e"},{"e":0.900,"r":12,"p":"[0.4,0.6]","l":"e"},{"e":0.940,"r":7.5,"p":"[0.4,0.6]","l":"e"},{"e":0.970,"r":4.5,"p":"[0.4,0.6]","l":"e"},{"e":0.985,"r":3,"p":"[0.4,0.6]","l":"e"},{"e":0.995,"r":2,"p":"[0.4,0.6]","l":"e"},{"e":0.999,"r":1.5,"p":"[0.4,0.6]","l":"e"},{"e":1.0,"r":1,"p":"[0.4,0.6]","l":"e"},
{"e":0.038,"r":10000,"p":"[0.4,0.6]","l":"μ"},{"e":0.056,"r":5100,"p":"[0.4,0.6]","l":"μ"},{"e":0.080,"r":2700,"p":"[0.4,0.6]","l":"μ"},{"e":0.110,"r":1700,"p":"[0.4,0.6]","l":"μ"},{"e":0.141,"r":1100,"p":"[0.4,0.6]","l":"μ"},{"e":0.188,"r":680,"p":"[0.4,0.6]","l":"μ"},{"e":0.219,"r":530,"p":"[0.4,0.6]","l":"μ"},{"e":0.279,"r":380,"p":"[0.4,0.6]","l":"μ"},{"e":0.340,"r":260,"p":"[0.4,0.6]","l":"μ"},{"e":0.400,"r":174,"p":"[0.4,0.6]","l":"μ"},{"e":0.438,"r":137,"p":"[0.4,0.6]","l":"μ"},{"e":0.500,"r":99,"p":"[0.4,0.6]","l":"μ"},{"e":0.600,"r":65,"p":"[0.4,0.6]","l":"μ"},{"e":0.700,"r":40.5,"p":"[0.4,0.6]","l":"μ"},{"e":0.800,"r":25.3,"p":"[0.4,0.6]","l":"μ"},{"e":0.850,"r":18.5,"p":"[0.4,0.6]","l":"μ"},{"e":0.900,"r":12.2,"p":"[0.4,0.6]","l":"μ"},{"e":0.940,"r":7.6,"p":"[0.4,0.6]","l":"μ"},{"e":0.970,"r":4.6,"p":"[0.4,0.6]","l":"μ"},{"e":0.985,"r":3.05,"p":"[0.4,0.6]","l":"μ"},{"e":0.995,"r":2,"p":"[0.4,0.6]","l":"μ"},{"e":0.999,"r":1.5,"p":"[0.4,0.6]","l":"μ"},{"e":1.0,"r":1,"p":"[0.4,0.6]","l":"μ"},
{"e":0.074,"r":10000,"p":"[0.85,1.15]","l":"e"},{"e":0.087,"r":5100,"p":"[0.85,1.15]","l":"e"},{"e":0.098,"r":3670,"p":"[0.85,1.15]","l":"e"},{"e":0.123,"r":2700,"p":"[0.85,1.15]","l":"e"},{"e":0.159,"r":1950,"p":"[0.85,1.15]","l":"e"},{"e":0.219,"r":1470,"p":"[0.85,1.15]","l":"e"},{"e":0.280,"r":850,"p":"[0.85,1.15]","l":"e"},{"e":0.340,"r":483,"p":"[0.85,1.15]","l":"e"},{"e":0.438,"r":260,"p":"[0.85,1.15]","l":"e"},{"e":0.500,"r":190,"p":"[0.85,1.15]","l":"e"},{"e":0.600,"r":122,"p":"[0.85,1.15]","l":"e"},{"e":0.700,"r":79,"p":"[0.85,1.15]","l":"e"},{"e":0.800,"r":50,"p":"[0.85,1.15]","l":"e"},{"e":0.850,"r":36,"p":"[0.85,1.15]","l":"e"},{"e":0.900,"r":22,"p":"[0.85,1.15]","l":"e"},{"e":0.940,"r":12,"p":"[0.85,1.15]","l":"e"},{"e":0.970,"r":6.5,"p":"[0.85,1.15]","l":"e"},{"e":0.985,"r":4.2,"p":"[0.85,1.15]","l":"e"},{"e":0.995,"r":2.6,"p":"[0.85,1.15]","l":"e"},{"e":0.999,"r":1.7,"p":"[0.85,1.15]","l":"e"},{"e":1.0,"r":1,"p":"[0.85,1.15]","l":"e"},
{"e":0.053,"r":10000,"p":"[0.85,1.15]","l":"μ"},{"e":0.062,"r":6000,"p":"[0.85,1.15]","l":"μ"},{"e":0.080,"r":4050,"p":"[0.85,1.15]","l":"μ"},{"e":0.098,"r":3400,"p":"[0.85,1.15]","l":"μ"},{"e":0.123,"r":2500,"p":"[0.85,1.15]","l":"μ"},{"e":0.159,"r":1720,"p":"[0.85,1.15]","l":"μ"},{"e":0.219,"r":1260,"p":"[0.85,1.15]","l":"μ"},{"e":0.280,"r":760,"p":"[0.85,1.15]","l":"μ"},{"e":0.340,"r":446,"p":"[0.85,1.15]","l":"μ"},{"e":0.438,"r":245,"p":"[0.85,1.15]","l":"μ"},{"e":0.500,"r":181,"p":"[0.85,1.15]","l":"μ"},{"e":0.600,"r":117,"p":"[0.85,1.15]","l":"μ"},{"e":0.700,"r":76,"p":"[0.85,1.15]","l":"μ"},{"e":0.800,"r":48,"p":"[0.85,1.15]","l":"μ"},{"e":0.850,"r":34.5,"p":"[0.85,1.15]","l":"μ"},{"e":0.900,"r":21.3,"p":"[0.85,1.15]","l":"μ"},{"e":0.940,"r":11.6,"p":"[0.85,1.15]","l":"μ"},{"e":0.970,"r":6.3,"p":"[0.85,1.15]","l":"μ"},{"e":0.985,"r":4.1,"p":"[0.85,1.15]","l":"μ"},{"e":0.995,"r":2.5,"p":"[0.85,1.15]","l":"μ"},{"e":0.999,"r":1.7,"p":"[0.85,1.15]","l":"μ"},{"e":1.0,"r":1,"p":"[0.85,1.15]","l":"μ"},
{"e":0.078,"r":10000,"p":"[1.35,1.650]","l":"e"},{"e":0.098,"r":5250,"p":"[1.35,1.650]","l":"e"},{"e":0.123,"r":3700,"p":"[1.35,1.650]","l":"e"},{"e":0.159,"r":2460,"p":"[1.35,1.650]","l":"e"},{"e":0.219,"r":1800,"p":"[1.35,1.650]","l":"e"},{"e":0.280,"r":1050,"p":"[1.35,1.650]","l":"e"},{"e":0.340,"r":600,"p":"[1.35,1.650]","l":"e"},{"e":0.438,"r":320,"p":"[1.35,1.650]","l":"e"},{"e":0.500,"r":228,"p":"[1.35,1.650]","l":"e"},{"e":0.600,"r":145,"p":"[1.35,1.650]","l":"e"},{"e":0.700,"r":93,"p":"[1.35,1.650]","l":"e"},{"e":0.800,"r":58,"p":"[1.35,1.650]","l":"e"},{"e":0.850,"r":43,"p":"[1.35,1.650]","l":"e"},{"e":0.900,"r":27,"p":"[1.35,1.650]","l":"e"},{"e":0.940,"r":15,"p":"[1.35,1.650]","l":"e"},{"e":0.970,"r":8,"p":"[1.35,1.650]","l":"e"},{"e":0.985,"r":5,"p":"[1.35,1.650]","l":"e"},{"e":0.995,"r":3,"p":"[1.35,1.650]","l":"e"},{"e":0.999,"r":1.9,"p":"[1.35,1.650]","l":"e"},{"e":1.0,"r":1,"p":"[1.35,1.650]","l":"e"},
{"e":0.083,"r":10000,"p":"[1.35,1.650]","l":"μ"},{"e":0.098,"r":5500,"p":"[1.35,1.650]","l":"μ"},{"e":0.123,"r":4000,"p":"[1.35,1.650]","l":"μ"},{"e":0.159,"r":2890,"p":"[1.35,1.650]","l":"μ"},{"e":0.219,"r":2020,"p":"[1.35,1.650]","l":"μ"},{"e":0.280,"r":1200,"p":"[1.35,1.650]","l":"μ"},{"e":0.340,"r":690,"p":"[1.35,1.650]","l":"μ"},{"e":0.438,"r":350,"p":"[1.35,1.650]","l":"μ"},{"e":0.500,"r":250,"p":"[1.35,1.650]","l":"μ"},{"e":0.600,"r":160,"p":"[1.35,1.650]","l":"μ"},{"e":0.700,"r":102,"p":"[1.35,1.650]","l":"μ"},{"e":0.800,"r":63,"p":"[1.35,1.650]","l":"μ"},{"e":0.850,"r":46,"p":"[1.35,1.650]","l":"μ"},{"e":0.900,"r":29,"p":"[1.35,1.650]","l":"μ"},{"e":0.940,"r":16,"p":"[1.35,1.650]","l":"μ"},{"e":0.970,"r":8.5,"p":"[1.35,1.650]","l":"μ"},{"e":0.985,"r":5.2,"p":"[1.35,1.650]","l":"μ"},{"e":0.995,"r":3.1,"p":"[1.35,1.650]","l":"μ"},{"e":0.999,"r":1.9,"p":"[1.35,1.650]","l":"μ"},{"e":1.0,"r":1,"p":"[1.35,1.650]","l":"μ"},
{"e":0.107,"r":10000,"p":"[1.8,2]","l":"e"},{"e":0.116,"r":6650,"p":"[1.8,2]","l":"e"},{"e":0.141,"r":5690,"p":"[1.8,2]","l":"e"},{"e":0.159,"r":4850,"p":"[1.8,2]","l":"e"},{"e":0.188,"r":3250,"p":"[1.8,2]","l":"e"},{"e":0.219,"r":2190,"p":"[1.8,2]","l":"e"},{"e":0.249,"r":1590,"p":"[1.8,2]","l":"e"},{"e":0.310,"r":1070,"p":"[1.8,2]","l":"e"},{"e":0.340,"r":840,"p":"[1.8,2]","l":"e"},{"e":0.370,"r":610,"p":"[1.8,2]","l":"e"},{"e":0.438,"r":405,"p":"[1.8,2]","l":"e"},{"e":0.500,"r":283,"p":"[1.8,2]","l":"e"},{"e":0.600,"r":175,"p":"[1.8,2]","l":"e"},{"e":0.700,"r":110,"p":"[1.8,2]","l":"e"},{"e":0.800,"r":69,"p":"[1.8,2]","l":"e"},{"e":0.850,"r":52,"p":"[1.8,2]","l":"e"},{"e":0.900,"r":33,"p":"[1.8,2]","l":"e"},{"e":0.940,"r":18,"p":"[1.8,2]","l":"e"},{"e":0.970,"r":9,"p":"[1.8,2]","l":"e"},{"e":0.985,"r":5.5,"p":"[1.8,2]","l":"e"},{"e":0.995,"r":3.2,"p":"[1.8,2]","l":"e"},{"e":0.999,"r":2,"p":"[1.8,2]","l":"e"},{"e":1.0,"r":1,"p":"[1.8,2]","l":"e"},
{"e":0.116,"r":10000,"p":"[1.8,2]","l":"μ"},{"e":0.123,"r":7000,"p":"[1.8,2]","l":"μ"},{"e":0.147,"r":5500,"p":"[1.8,2]","l":"μ"},{"e":0.165,"r":4700,"p":"[1.8,2]","l":"μ"},{"e":0.188,"r":3350,"p":"[1.8,2]","l":"μ"},{"e":0.219,"r":2250,"p":"[1.8,2]","l":"μ"},{"e":0.249,"r":1610,"p":"[1.8,2]","l":"μ"},{"e":0.310,"r":1090,"p":"[1.8,2]","l":"μ"},{"e":0.340,"r":850,"p":"[1.8,2]","l":"μ"},{"e":0.370,"r":620,"p":"[1.8,2]","l":"μ"},{"e":0.438,"r":412,"p":"[1.8,2]","l":"μ"},{"e":0.500,"r":288,"p":"[1.8,2]","l":"μ"},{"e":0.600,"r":178,"p":"[1.8,2]","l":"μ"},{"e":0.700,"r":112,"p":"[1.8,2]","l":"μ"},{"e":0.800,"r":70,"p":"[1.8,2]","l":"μ"},{"e":0.850,"r":53,"p":"[1.8,2]","l":"μ"},{"e":0.900,"r":33.5,"p":"[1.8,2]","l":"μ"},{"e":0.940,"r":18.5,"p":"[1.8,2]","l":"μ"},{"e":0.970,"r":9.2,"p":"[1.8,2]","l":"μ"},{"e":0.985,"r":5.6,"p":"[1.8,2]","l":"μ"},{"e":0.995,"r":3.2,"p":"[1.8,2]","l":"μ"},{"e":0.999,"r":2,"p":"[1.8,2]","l":"μ"},{"e":1.0,"r":1,"p":"[1.8,2]","l":"μ"}
]
},
"vconcat": [
{
 "width": 552, "height": 386,
 "data": {"name": "p1"},
 "layer": [
  {"mark": {"type": "line", "strokeWidth": 1.3, "clip": true, "color": "black"},
   "encoding": {
    "x": {"field": "e", "type": "quantitative", "scale": {"domain": [0, 1], "nice": false, "zero": false}, "axis": {"orient": "bottom", "values": [0,0.1,0.2,0.3,0.4,0.5,0.6,0.7,0.8,0.9,1], "tickSize": -10, "labelPadding": 14, "labelExpr": "datum.value==0?'0':datum.value==1?'1':format(datum.value,'.1f')", "title": "efficiency\u00a0\u00a0ε", "titleFontSize": 21, "titleX": 229, "titleY": 39}},
    "y": {"field": "r", "type": "quantitative", "scale": {"type": "log", "domain": [1, 10000], "nice": false}, "axis": {"orient": "left", "values": [1,10,100,1000,10000], "tickSize": -10, "labelPadding": 14, "labelExpr": "datum.value==1?'1':datum.value==10?'10':datum.value==100?'10²':datum.value==1000?'10³':'10⁴'", "title": "rejection\u00a0\u00a0\u00a0\u00a0\u00a01/ε", "titleFontSize": 21, "titleAngle": -90, "titleX": -46, "titleY": 248}},
    "color": {"field": "p", "type": "nominal", "scale": {"domain": ["[0.4,0.6]","[0.85,1.15]","[1.35,1.650]","[1.8,2]"], "range": ["#ff0000","#0000ff","#008c00","#000000"]}, "legend": {"orient": "none", "legendX": 28, "legendY": 267, "title": null, "labelExpr": "'pT ∈ ' + datum.label + ' TeV'", "symbolType": "M-1.5,0H1.5", "symbolSize": 324, "symbolOffset": 4.5, "labelOffset": 17.5, "labelFontSize": 15, "rowPadding": 5}},
    "strokeDash": {"field": "l", "type": "nominal", "scale": {"domain": ["e","μ"], "range": [[1,0],[7,4]]}, "legend": {"orient": "none", "legendX": 28, "legendY": 212, "title": null, "labelExpr": "datum.label + '\u00a0\u00a0\u00a0'", "symbolType": "M-3,0H3", "symbolSize": 324, "symbolOffset": 18, "symbolStrokeColor": "black", "labelOffset": 25, "labelFontSize": 17, "rowPadding": 6}}
   }},
  {"mark": {"type": "line", "opacity": 0},
   "encoding": {
    "x": {"field": "e", "type": "quantitative", "scale": {"domain": [0, 1], "nice": false, "zero": false}, "axis": {"orient": "bottom", "values": [0.02,0.04,0.06,0.08,0.12,0.14,0.16,0.18,0.22,0.24,0.26,0.28,0.32,0.34,0.36,0.38,0.42,0.44,0.46,0.48,0.52,0.54,0.56,0.58,0.62,0.64,0.66,0.68,0.72,0.74,0.76,0.78,0.82,0.84,0.86,0.88,0.92,0.94,0.96,0.98], "tickSize": -5, "labels": false, "title": "H", "titleFontSize": 21, "titleFontStyle": "italic", "titleX": 208, "titleY": 39}},
    "y": {"field": "r", "type": "quantitative", "scale": {"type": "log", "domain": [1, 10000], "nice": false}, "axis": {"orient": "left", "values": [2,3,4,5,6,7,8,9,20,30,40,50,60,70,80,90,200,300,400,500,600,700,800,900,2000,3000,4000,5000,6000,7000,8000,9000], "tickSize": -5, "labels": false, "title": "j", "titleFontSize": 21, "titleFontStyle": "italic", "titleAngle": -90, "titleX": -46, "titleY": 259}}
   }},
  {"mark": {"type": "line", "opacity": 0},
   "encoding": {
    "x": {"field": "e", "type": "quantitative", "scale": {"domain": [0, 1], "nice": false, "zero": false}, "axis": {"orient": "top", "values": [0,0.1,0.2,0.3,0.4,0.5,0.6,0.7,0.8,0.9,1], "tickSize": -10, "labels": false, "title": "H", "titleFontSize": 14, "titleX": 338, "titleY": 429}},
    "y": {"field": "r", "type": "quantitative", "scale": {"type": "log", "domain": [1, 10000], "nice": false}, "axis": {"orient": "right", "values": [1,10,100,1000,10000], "tickSize": -10, "labels": false, "title": "j", "titleFontSize": 14, "titleAngle": -90, "titleX": -593, "titleY": 112}}
   }},
  {"mark": {"type": "line", "opacity": 0},
   "encoding": {
    "x": {"field": "e", "type": "quantitative", "scale": {"domain": [0, 1], "nice": false, "zero": false}, "axis": {"orient": "top", "values": [0.02,0.04,0.06,0.08,0.12,0.14,0.16,0.18,0.22,0.24,0.26,0.28,0.32,0.34,0.36,0.38,0.42,0.44,0.46,0.48,0.52,0.54,0.56,0.58,0.62,0.64,0.66,0.68,0.72,0.74,0.76,0.78,0.82,0.84,0.86,0.88,0.92,0.94,0.96,0.98], "tickSize": -5, "labels": false, "title": null}},
    "y": {"field": "r", "type": "quantitative", "scale": {"type": "log", "domain": [1, 10000], "nice": false}, "axis": {"orient": "right", "values": [2,3,4,5,6,7,8,9,20,30,40,50,60,70,80,90,200,300,400,500,600,700,800,900,2000,3000,4000,5000,6000,7000,8000,9000], "tickSize": -5, "labels": false, "title": null}}
   }},
  {"data": {"values": [{}]}, "mark": {"type": "rect", "fill": "white", "stroke": "black", "strokeWidth": 1},
   "encoding": {"x": {"datum": 0.0507, "type": "quantitative", "axis": null}, "x2": {"datum": 0.2754}, "y": {"datum": 6668, "type": "quantitative", "axis": null}, "y2": {"datum": 2756}}},
  {"data": {"values": [{}]}, "mark": {"type": "text", "text": "FEST", "fontSize": 19, "align": "left", "baseline": "middle", "color": "black"},
   "encoding": {"x": {"datum": 0.0743, "type": "quantitative", "axis": null}, "y": {"datum": 4285, "type": "quantitative", "axis": null}}},
  {"data": {"values": [{}]}, "mark": {"type": "text", "text": "H", "fontSize": 19, "fontStyle": "italic", "align": "left", "baseline": "middle", "color": "black"},
   "encoding": {"x": {"datum": 0.1719, "type": "quantitative", "axis": null}, "y": {"datum": 4285, "type": "quantitative", "axis": null}}},
  {"data": {"values": [{}]}, "mark": {"type": "text", "text": "vs", "fontSize": 19, "align": "left", "baseline": "middle", "color": "black"},
   "encoding": {"x": {"datum": 0.2063, "type": "quantitative", "axis": null}, "y": {"datum": 4285, "type": "quantitative", "axis": null}}},
  {"data": {"values": [{}]}, "mark": {"type": "text", "text": "j", "fontSize": 19, "fontStyle": "italic", "align": "left", "baseline": "middle", "color": "black"},
   "encoding": {"x": {"datum": 0.2504, "type": "quantitative", "axis": null}, "y": {"datum": 4285, "type": "quantitative", "axis": null}}}
 ],
 "resolve": {"axis": {"x": "independent", "y": "independent"}}
},
{
 "width": 552, "height": 386,
 "data": {"name": "p2"},
 "layer": [
  {"mark": {"type": "line", "strokeWidth": 1.3, "clip": true, "color": "black"},
   "encoding": {
    "x": {"field": "e", "type": "quantitative", "scale": {"domain": [0, 1], "nice": false, "zero": false}, "axis": {"orient": "bottom", "values": [0,0.1,0.2,0.3,0.4,0.5,0.6,0.7,0.8,0.9,1], "tickSize": -10, "labelPadding": 14, "labelExpr": "datum.value==0?'0':datum.value==1?'1':format(datum.value,'.1f')", "title": "efficiency\u00a0\u00a0ε", "titleFontSize": 21, "titleX": 226, "titleY": 39}},
    "y": {"field": "r", "type": "quantitative", "scale": {"type": "log", "domain": [1, 10000], "nice": false}, "axis": {"orient": "left", "values": [1,10,100,1000,10000], "tickSize": -10, "labelPadding": 14, "labelExpr": "datum.value==1?'1':datum.value==10?'10':datum.value==100?'10²':datum.value==1000?'10³':'10⁴'", "title": "rejection\u00a0\u00a0\u00a0\u00a0\u00a01/ε", "titleFontSize": 21, "titleAngle": -90, "titleX": -46, "titleY": 248}},
    "color": {"field": "p", "type": "nominal", "scale": {"domain": ["[0.4,0.6]","[0.85,1.15]","[1.35,1.650]","[1.8,2]"], "range": ["#ff0000","#0000ff","#008c00","#000000"]}, "legend": {"orient": "none", "legendX": 28, "legendY": 267, "title": null, "labelExpr": "'pT ∈ ' + datum.label + ' TeV'", "symbolType": "M-1.5,0H1.5", "symbolSize": 324, "symbolOffset": 4.5, "labelOffset": 17.5, "labelFontSize": 15, "rowPadding": 5}},
    "strokeDash": {"field": "l", "type": "nominal", "scale": {"domain": ["e","μ"], "range": [[1,0],[7,4]]}, "legend": {"orient": "none", "legendX": 28, "legendY": 212, "title": null, "labelExpr": "datum.label + '\u00a0\u00a0\u00a0'", "symbolType": "M-3,0H3", "symbolSize": 324, "symbolOffset": 18, "symbolStrokeColor": "black", "labelOffset": 25, "labelFontSize": 17, "rowPadding": 6}}
   }},
  {"mark": {"type": "line", "opacity": 0},
   "encoding": {
    "x": {"field": "e", "type": "quantitative", "scale": {"domain": [0, 1], "nice": false, "zero": false}, "axis": {"orient": "bottom", "values": [0.02,0.04,0.06,0.08,0.12,0.14,0.16,0.18,0.22,0.24,0.26,0.28,0.32,0.34,0.36,0.38,0.42,0.44,0.46,0.48,0.52,0.54,0.56,0.58,0.62,0.64,0.66,0.68,0.72,0.74,0.76,0.78,0.82,0.84,0.86,0.88,0.92,0.94,0.96,0.98], "tickSize": -5, "labels": false, "title": "t", "titleFontSize": 21, "titleFontStyle": "italic", "titleX": 214, "titleY": 39}},
    "y": {"field": "r", "type": "quantitative", "scale": {"type": "log", "domain": [1, 10000], "nice": false}, "axis": {"orient": "left", "values": [2,3,4,5,6,7,8,9,20,30,40,50,60,70,80,90,200,300,400,500,600,700,800,900,2000,3000,4000,5000,6000,7000,8000,9000], "tickSize": -5, "labels": false, "title": "j", "titleFontSize": 21, "titleFontStyle": "italic", "titleAngle": -90, "titleX": -46, "titleY": 259}}
   }},
  {"mark": {"type": "line", "opacity": 0},
   "encoding": {
    "x": {"field": "e", "type": "quantitative", "scale": {"domain": [0, 1], "nice": false, "zero": false}, "axis": {"orient": "top", "values": [0,0.1,0.2,0.3,0.4,0.5,0.6,0.7,0.8,0.9,1], "tickSize": -10, "labels": false, "title": "t", "titleFontSize": 14, "titleX": 335, "titleY": 429}},
    "y": {"field": "r", "type": "quantitative", "scale": {"type": "log", "domain": [1, 10000], "nice": false}, "axis": {"orient": "right", "values": [1,10,100,1000,10000], "tickSize": -10, "labels": false, "title": "j", "titleFontSize": 14, "titleAngle": -90, "titleX": -593, "titleY": 112}}
   }},
  {"mark": {"type": "line", "opacity": 0},
   "encoding": {
    "x": {"field": "e", "type": "quantitative", "scale": {"domain": [0, 1], "nice": false, "zero": false}, "axis": {"orient": "top", "values": [0.02,0.04,0.06,0.08,0.12,0.14,0.16,0.18,0.22,0.24,0.26,0.28,0.32,0.34,0.36,0.38,0.42,0.44,0.46,0.48,0.52,0.54,0.56,0.58,0.62,0.64,0.66,0.68,0.72,0.74,0.76,0.78,0.82,0.84,0.86,0.88,0.92,0.94,0.96,0.98], "tickSize": -5, "labels": false, "title": null}},
    "y": {"field": "r", "type": "quantitative", "scale": {"type": "log", "domain": [1, 10000], "nice": false}, "axis": {"orient": "right", "values": [2,3,4,5,6,7,8,9,20,30,40,50,60,70,80,90,200,300,400,500,600,700,800,900,2000,3000,4000,5000,6000,7000,8000,9000], "tickSize": -5, "labels": false, "title": null}}
   }},
  {"data": {"values": [{}]}, "mark": {"type": "rect", "fill": "white", "stroke": "black", "strokeWidth": 1},
   "encoding": {"x": {"datum": 0.0525, "type": "quantitative", "axis": null}, "x2": {"datum": 0.2772}, "y": {"datum": 6355, "type": "quantitative", "axis": null}, "y2": {"datum": 2564}}},
  {"data": {"values": [{}]}, "mark": {"type": "text", "text": "FEST", "fontSize": 19, "align": "left", "baseline": "middle", "color": "black"},
   "encoding": {"x": {"datum": 0.0779, "type": "quantitative", "axis": null}, "y": {"datum": 4036, "type": "quantitative", "axis": null}}},
  {"data": {"values": [{}]}, "mark": {"type": "text", "text": "t", "fontSize": 19, "fontStyle": "italic", "align": "left", "baseline": "middle", "color": "black"},
   "encoding": {"x": {"datum": 0.1755, "type": "quantitative", "axis": null}, "y": {"datum": 4036, "type": "quantitative", "axis": null}}},
  {"data": {"values": [{}]}, "mark": {"type": "text", "text": "vs", "fontSize": 19, "align": "left", "baseline": "middle", "color": "black"},
   "encoding": {"x": {"datum": 0.1947, "type": "quantitative", "axis": null}, "y": {"datum": 4036, "type": "quantitative", "axis": null}}},
  {"data": {"values": [{}]}, "mark": {"type": "text", "text": "j", "fontSize": 19, "fontStyle": "italic", "align": "left", "baseline": "middle", "color": "black"},
   "encoding": {"x": {"datum": 0.2388, "type": "quantitative", "axis": null}, "y": {"datum": 4036, "type": "quantitative", "axis": null}}}
 ],
 "resolve": {"axis": {"x": "independent", "y": "independent"}}
},
{
 "width": 552, "height": 386,
 "data": {"name": "p3"},
 "layer": [
  {"mark": {"type": "line", "strokeWidth": 1.3, "clip": true, "color": "black"},
   "encoding": {
    "x": {"field": "e", "type": "quantitative", "scale": {"domain": [0, 1], "nice": false, "zero": false}, "axis": {"orient": "bottom", "values": [0,0.1,0.2,0.3,0.4,0.5,0.6,0.7,0.8,0.9,1], "tickSize": -10, "labelPadding": 14, "labelExpr": "datum.value==0?'0':datum.value==1?'1':format(datum.value,'.1f')", "title": "efficiency\u00a0\u00a0ε", "titleFontSize": 21, "titleX": 229, "titleY": 39}},
    "y": {"field": "r", "type": "quantitative", "scale": {"type": "log", "domain": [1, 10000], "nice": false}, "axis": {"orient": "left", "values": [1,10,100,1000,10000], "tickSize": -10, "labelPadding": 14, "labelExpr": "datum.value==1?'1':datum.value==10?'10':datum.value==100?'10²':datum.value==1000?'10³':'10⁴'", "title": "rejection\u00a0\u00a0\u00a0\u00a0\u00a01/ε", "titleFontSize": 21, "titleAngle": -90, "titleX": -46, "titleY": 250}},
    "color": {"field": "p", "type": "nominal", "scale": {"domain": ["[0.4,0.6]","[0.85,1.15]","[1.35,1.650]","[1.8,2]"], "range": ["#ff0000","#0000ff","#008c00","#000000"]}, "legend": {"orient": "none", "legendX": 27, "legendY": 267, "title": null, "labelExpr": "'pT ∈ ' + datum.label + ' TeV'", "symbolType": "M-1.5,0H1.5", "symbolSize": 324, "symbolOffset": 4.5, "labelOffset": 17.5, "labelFontSize": 15, "rowPadding": 5}},
    "strokeDash": {"field": "l", "type": "nominal", "scale": {"domain": ["e","μ"], "range": [[1,0],[7,4]]}, "legend": {"orient": "none", "legendX": 27, "legendY": 213, "title": null, "labelExpr": "datum.label + '\u00a0\u00a0\u00a0'", "symbolType": "M-3,0H3", "symbolSize": 324, "symbolOffset": 18, "symbolStrokeColor": "black", "labelOffset": 25, "labelFontSize": 17, "rowPadding": 6}}
   }},
  {"mark": {"type": "line", "opacity": 0},
   "encoding": {
    "x": {"field": "e", "type": "quantitative", "scale": {"domain": [0, 1], "nice": false, "zero": false}, "axis": {"orient": "bottom", "values": [0.02,0.04,0.06,0.08,0.12,0.14,0.16,0.18,0.22,0.24,0.26,0.28,0.32,0.34,0.36,0.38,0.42,0.44,0.46,0.48,0.52,0.54,0.56,0.58,0.62,0.64,0.66,0.68,0.72,0.74,0.76,0.78,0.82,0.84,0.86,0.88,0.92,0.94,0.96,0.98], "tickSize": -5, "labels": false, "title": "H", "titleFontSize": 21, "titleFontStyle": "italic", "titleX": 208, "titleY": 39}},
    "y": {"field": "r", "type": "quantitative", "scale": {"type": "log", "domain": [1, 10000], "nice": false}, "axis": {"orient": "left", "values": [2,3,4,5,6,7,8,9,20,30,40,50,60,70,80,90,200,300,400,500,600,700,800,900,2000,3000,4000,5000,6000,7000,8000,9000], "tickSize": -5, "labels": false, "title": "t", "titleFontSize": 21, "titleFontStyle": "italic", "titleAngle": -90, "titleX": -46, "titleY": 262}}
   }},
  {"mark": {"type": "line", "opacity": 0},
   "encoding": {
    "x": {"field": "e", "type": "quantitative", "scale": {"domain": [0, 1], "nice": false, "zero": false}, "axis": {"orient": "top", "values": [0,0.1,0.2,0.3,0.4,0.5,0.6,0.7,0.8,0.9,1], "tickSize": -10, "labels": false, "title": "H", "titleFontSize": 14, "titleX": 338, "titleY": 429}},
    "y": {"field": "r", "type": "quantitative", "scale": {"type": "log", "domain": [1, 10000], "nice": false}, "axis": {"orient": "right", "values": [1,10,100,1000,10000], "tickSize": -10, "labels": false, "title": "t", "titleFontSize": 14, "titleAngle": -90, "titleX": -593, "titleY": 114}}
   }},
  {"mark": {"type": "line", "opacity": 0},
   "encoding": {
    "x": {"field": "e", "type": "quantitative", "scale": {"domain": [0, 1], "nice": false, "zero": false}, "axis": {"orient": "top", "values": [0.02,0.04,0.06,0.08,0.12,0.14,0.16,0.18,0.22,0.24,0.26,0.28,0.32,0.34,0.36,0.38,0.42,0.44,0.46,0.48,0.52,0.54,0.56,0.58,0.62,0.64,0.66,0.68,0.72,0.74,0.76,0.78,0.82,0.84,0.86,0.88,0.92,0.94,0.96,0.98], "tickSize": -5, "labels": false, "title": null}},
    "y": {"field": "r", "type": "quantitative", "scale": {"type": "log", "domain": [1, 10000], "nice": false}, "axis": {"orient": "right", "values": [2,3,4,5,6,7,8,9,20,30,40,50,60,70,80,90,200,300,400,500,600,700,800,900,2000,3000,4000,5000,6000,7000,8000,9000], "tickSize": -5, "labels": false, "title": null}}
   }},
  {"data": {"values": [{}]}, "mark": {"type": "rect", "fill": "white", "stroke": "black", "strokeWidth": 1},
   "encoding": {"x": {"datum": 0.7246, "type": "quantitative", "axis": null}, "x2": {"datum": 0.9529}, "y": {"datum": 5916, "type": "quantitative", "axis": null}, "y2": {"datum": 2448}}},
  {"data": {"values": [{}]}, "mark": {"type": "text", "text": "FEST", "fontSize": 19, "align": "left", "baseline": "middle", "color": "black"},
   "encoding": {"x": {"datum": 0.7464, "type": "quantitative", "axis": null}, "y": {"datum": 3806, "type": "quantitative", "axis": null}}},
  {"data": {"values": [{}]}, "mark": {"type": "text", "text": "H", "fontSize": 19, "fontStyle": "italic", "align": "left", "baseline": "middle", "color": "black"},
   "encoding": {"x": {"datum": 0.8440, "type": "quantitative", "axis": null}, "y": {"datum": 3806, "type": "quantitative", "axis": null}}},
  {"data": {"values": [{}]}, "mark": {"type": "text", "text": "vs", "fontSize": 19, "align": "left", "baseline": "middle", "color": "black"},
   "encoding": {"x": {"datum": 0.8784, "type": "quantitative", "axis": null}, "y": {"datum": 3806, "type": "quantitative", "axis": null}}},
  {"data": {"values": [{}]}, "mark": {"type": "text", "text": "t", "fontSize": 19, "fontStyle": "italic", "align": "left", "baseline": "middle", "color": "black"},
   "encoding": {"x": {"datum": 0.9225, "type": "quantitative", "axis": null}, "y": {"datum": 3806, "type": "quantitative", "axis": null}}}
 ],
 "resolve": {"axis": {"x": "independent", "y": "independent"}}
}
],
"resolve": {"scale": {"color": "independent", "strokeDash": "independent"}}
}
